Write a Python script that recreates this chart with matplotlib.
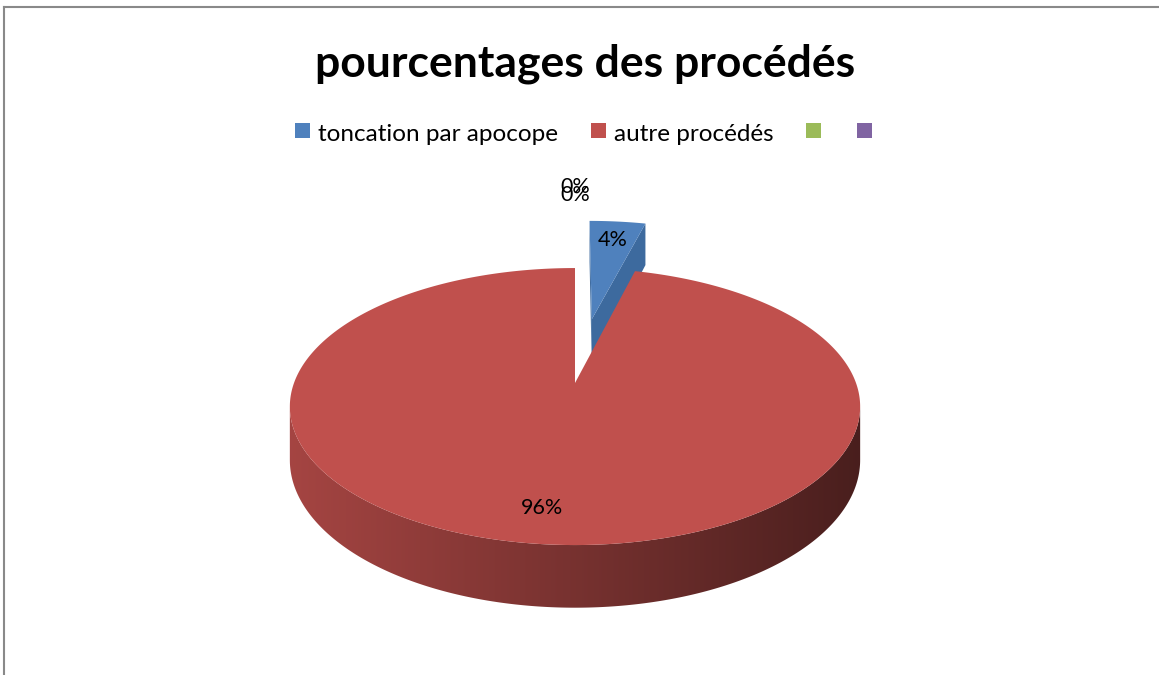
import numpy as np
import matplotlib
matplotlib.use('Agg')
import matplotlib.pyplot as plt
from matplotlib.patches import Polygon, Rectangle
from matplotlib.lines import Line2D

# Chart data
labels = ['toncation par apocope', 'autre procédés', '', '']
values = [4, 96, 0, 0]
pct_labels = ['4%', '96%', '0%', '0%']
colors = ['#4F81BD', '#C0504D', '#9BBB59', '#8064A2']
side_colors = ['#3D6A9E', '#7A2F30', '#7A9340', '#5E4A7A']
explode = [0.52, 0.0, 0.52, 0.52]
label_r = [0.79, 0.81, 1.42, 1.31]

title = 'pourcentages des procédés'
FONT = 'Lato'

# 3D pie geometry (pixel space)
CX, CY = 575, 383
A, B, K = 281, 134.5, 0.17
D = 52

W, H = 1159, 675
fig = plt.figure(figsize=(W / 100, H / 100), dpi=100)
ax = fig.add_axes([0, 0, 1, 1])
ax.axis('off')


def proj(u, v, h=0.0):
    w = 1 + K * v
    return CX + A * u / w, CY - (B * v - D * h) / w


total = sum(values)
bounds = np.concatenate([[0], np.cumsum(values)]) / total * 360
cam = np.array([0, -1 / K])
rim_lo, rim_hi = np.degrees(np.arccos(-K)), 360 - np.degrees(np.arccos(-K))

slices = []
for i, val in enumerate(values):
    t0, t1 = bounds[i], bounds[i + 1]
    mid = np.radians((t0 + t1) / 2)
    off = explode[i] * np.array([np.sin(mid), np.cos(mid)])
    slices.append((i, t0, t1, off))

# back-to-front drawing order
order = sorted([s for s in slices if values[s[0]] > 0],
               key=lambda s: -(s[3][1] + np.cos(np.radians((s[1] + s[2]) / 2))))

for i, t0, t1, off in order:
    ou, ov = off
    base = np.array(matplotlib.colors.to_rgb(colors[i]))
    # radial faces
    for ang, sign in ((t0, -1), (t1, 1)):
        a = np.radians(ang)
        normal = sign * np.array([np.cos(a), -np.sin(a)])
        if normal @ (cam - off) > 1e-6:
            pts = [proj(ou, ov, 0), proj(ou + np.sin(a), ov + np.cos(a), 0),
                   proj(ou + np.sin(a), ov + np.cos(a), 1), proj(ou, ov, 1)]
            ax.add_patch(Polygon(pts, closed=True, facecolor=side_colors[i],
                                 edgecolor='none', zorder=2))
    # outer rim (front part only), shaded left to right
    r0, r1 = max(t0, rim_lo), min(t1, rim_hi)
    if r1 > r0:
        ar = np.radians(np.linspace(r0, r1, 300))
        upper = [proj(ou + np.sin(a), ov + np.cos(a), 0) for a in ar]
        lower = [proj(ou + np.sin(a), ov + np.cos(a), 1) for a in ar[::-1]]
        rim = Polygon(upper + lower, closed=True, facecolor='none', edgecolor='none')
        ax.add_patch(rim)
        xs = np.array([p[0] for p in upper + lower])
        ys = np.array([p[1] for p in upper + lower])
        t = np.linspace(0, 1, 256)
        grad = (base * 0.86)[None, :] + ((base * 0.38) - (base * 0.86))[None, :] * t[:, None]
        im = ax.imshow(grad[None, :, :], extent=(xs.min() - 2, xs.max() + 2, ys.max() + 2, ys.min() - 2),
                       aspect='auto', interpolation='bilinear', zorder=2)
        im.set_clip_path(rim)
    # top face
    th = np.radians(np.linspace(t0, t1, max(int((t1 - t0) * 2), 8)))
    top = [proj(ou, ov)] + [proj(ou + np.sin(a), ov + np.cos(a)) for a in th]
    ax.add_patch(Polygon(top, closed=True, facecolor=colors[i], edgecolor='none', zorder=3))

# data labels
for i, t0, t1, off in slices:
    mid = np.radians((t0 + t1) / 2)
    s = label_r[i] + explode[i]
    x, y = proj(s * np.sin(mid), s * np.cos(mid))
    ax.text(x, y, pct_labels[i], ha='center', va='center', fontsize=15.5,
            family=FONT, color='black', zorder=5)

# title
ax.text(585, 77, title, ha='center', va='baseline', fontsize=32,
        fontweight='bold', family=FONT, color='black', zorder=5)

# legend
renderer = fig.canvas.get_renderer()
box, gap_txt, gap_item = 15, 8, 33
items = []
for lab in labels:
    t = ax.text(0, 141, lab, ha='left', va='baseline', fontsize=17.5,
                family=FONT, color='black', zorder=5)
    tw = t.get_window_extent(renderer).width if lab else 0
    items.append((t, tw))
total_w = sum(box + (gap_txt + tw if tw else 0) for _, tw in items) + gap_item * (len(items) - 1) + 3 * (sum(1 for _, tw in items if not tw))
x = 585 - total_w / 2
for (t, tw), c in zip(items, colors):
    ax.add_patch(Rectangle((x, 123), box, box, facecolor=c, edgecolor='none', zorder=5))
    if tw:
        t.set_x(x + box + gap_txt)
        x += box + gap_txt + tw + gap_item
    else:
        x += box + gap_item + 3

# chart area border
ax.add_line(Line2D([4, W], [7, 7], color='#898989', lw=1.5))
ax.add_line(Line2D([4, 4], [7, H], color='#898989', lw=1.5))

ax.set_xlim(0, W)
ax.set_ylim(H, 0)
ax.set_aspect('auto')

fig.savefig('out.png', dpi=100)
